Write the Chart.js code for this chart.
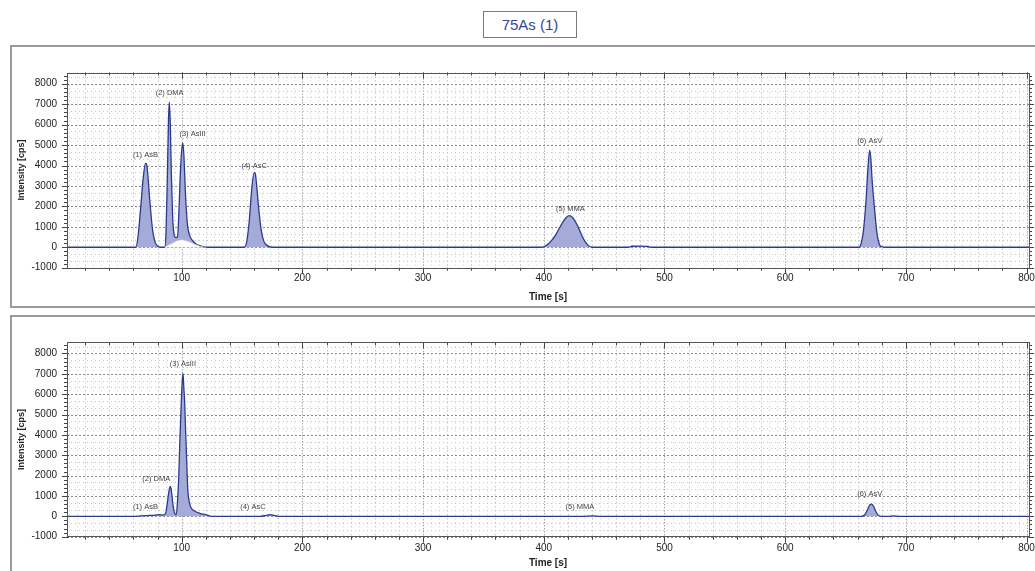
<!DOCTYPE html>
<html>
<head>
<meta charset="utf-8">
<script src="https://cdn.jsdelivr.net/npm/chart.js@4.4.1/dist/chart.umd.min.js"></script>
<style>
  html, body { margin: 0; padding: 0; background: #fff; overflow: hidden; }
  body { width: 1035px; height: 571px; position: relative; font-family: "Liberation Sans", Arial, sans-serif; }
  #title {
    position: absolute; left: 483px; top: 11px; width: 94px; height: 27px;
    box-sizing: border-box; border: 1px solid #7a7a7a;
    color: #34449a; font-size: 15px; line-height: 25px; text-align: center;
  }
  .panel { position: absolute; left: 10px; width: 1040px; border: 2px solid #9a9a9a; box-sizing: border-box; }
  canvas { position: absolute; left: 0; }
</style>
</head>
<body>
<div id="title">75As (1)</div>
<div class="panel" style="top:45px;height:263px"></div>
<div class="panel" style="top:315px;height:270px"></div>
<canvas id="top-chart" width="1035" height="261" style="top:46px"></canvas>
<canvas id="bottom-chart" width="1035" height="261" style="top:316px"></canvas>
<script>
// axis ranges and tick labels
const xMin = 5, xMax = 802;
const yMin = -1000, yMax = 8550;
const xTicks = [100, 200, 300, 400, 500, 600, 700, 800];
const yTicks = [-1000, 0, 1000, 2000, 3000, 4000, 5000, 6000, 7000, 8000];

const peakNames = ['(1) AsB', '(2) DMA', '(3) AsIII', '(4) AsC', '(5) MMA', '(6) AsV'];

// upper chromatogram (time [s], intensity [cps])
const topTime = [5, 60, 62, 64, 66, 68, 70, 71, 72, 74, 76, 78, 80, 83,
  86, 87, 88, 89, 89.7, 90.5, 91.5, 92.5, 93.5, 95, 96.5,
  97.5, 98.5, 99.5, 100.5, 101, 102, 103, 104, 105, 107, 109, 112, 116, 120, 124,
  152, 154, 156, 158, 160, 161, 162, 164, 166, 168, 171, 175,
  398, 402, 406, 410, 414, 418, 421, 424, 428, 431, 434, 437, 440,
  470, 473, 480, 486, 489,
  661, 663, 665, 667, 668.5, 670, 671, 672, 674, 676, 678, 680, 684, 802];
const topSignal = [0, 0, 0, 600, 1900, 3300, 4100, 4050, 3500, 2000, 800, 250, 60, 0,
  0, 700, 3000, 6000, 7100, 6200, 3500, 1500, 700, 480, 500,
  1400, 3000, 4300, 5000, 5100, 4300, 2800, 1700, 1000, 520, 330, 150, 60, 10, 0,
  0, 300, 1300, 2800, 3650, 3600, 3100, 1800, 800, 300, 80, 0,
  0, 80, 300, 620, 1050, 1420, 1550, 1450, 1050, 650, 300, 80, 0,
  0, 50, 55, 40, 0,
  0, 200, 900, 2300, 3800, 4750, 4300, 3300, 1900, 700, 150, 30, 0, 0];

// unfilled hump under peaks 2 and 3
const humpTime = [86, 88, 92, 96, 100, 104, 108, 112, 116, 120];
const humpSignal = [0, 80, 200, 320, 370, 320, 230, 120, 40, 0];

const topLabelTimes = [70, 90, 109, 160, 422, 670];
const topLabelHeights = [4100, 7100, 5100, 3560, 1440, 4750];

// lower chromatogram
const botTime = [5, 60, 66, 72, 78, 82, 84, 86.5, 88, 89.5, 90.6, 91.5, 92.5, 93.5, 94.5, 95.6,
  96.5, 97.5, 98.3, 99.7, 100.4, 101.1, 101.8, 102.5, 103.2, 103.9, 104.5, 105.2, 106.5, 108,
  111, 115, 120, 125,
  165, 170, 173, 177, 182,
  432, 440, 448,
  663, 666, 668, 670, 671.5, 673, 675, 677, 680,
  686, 690, 694, 802];
const botSignal = [0, 0, 20, 40, 60, 80, 60, 120, 600, 1250, 1470, 1250, 700, 300, 120, 100,
  700, 1800, 3350, 5600, 6600, 7020, 6300, 5600, 4300, 3200, 2100, 1200, 650, 400,
  250, 150, 80, 0,
  0, 50, 80, 40, 0,
  0, 20, 0,
  0, 80, 300, 550, 600, 520, 250, 60, 0,
  0, 25, 0, 0];

const botLabelTimes = [70, 79, 101, 159, 430, 670];
const botLabelHeights = [0, 1400, 7050, 0, 0, 650];

const chromPlugin = {
  id: 'chrom',
  beforeDatasetsDraw(chart) {
    const { ctx, chartArea: a, scales: { x, y } } = chart;
    ctx.save();
    ctx.lineWidth = 1;
    // vertical dotted grid
    for (let i = 0; i <= 125; i++) {
      const v = i * 20 / 3;
      if (v < x.min || v > x.max) continue;
      const px = Math.round(x.getPixelForValue(v)) + 0.5;
      const major = i % 15 === 0, mid = i % 3 === 0;
      ctx.strokeStyle = major ? '#7a7a7a' : mid ? '#a8a8a8' : '#cacaca';
      ctx.setLineDash(major ? [1, 2] : [1, 3]);
      ctx.beginPath();
      ctx.moveTo(px, a.top);
      ctx.lineTo(px, a.bottom);
      ctx.stroke();
    }
    // horizontal dotted grid
    for (let i = -3; i <= 26; i++) {
      const v = i * 1000 / 3;
      if (v < y.min || v > y.max) continue;
      const py = Math.round(y.getPixelForValue(v)) + 0.5;
      const major = i % 3 === 0;
      ctx.strokeStyle = major ? '#8a8a8a' : '#c6c6c6';
      ctx.setLineDash(major ? [2, 2] : [1, 3]);
      ctx.beginPath();
      ctx.moveTo(a.left, py);
      ctx.lineTo(a.right, py);
      ctx.stroke();
    }
    ctx.restore();
  },
  afterDraw(chart) {
    const { ctx, chartArea: a, scales: { x, y } } = chart;
    const opts = chart.options.plugins.chrom;
    ctx.save();
    ctx.strokeStyle = '#444';
    ctx.lineWidth = 1;
    ctx.setLineDash([]);
    ctx.beginPath();
    // x tick marks, bottom outside and top inside
    for (let v = 20; v <= x.max; v += 20) {
      if (v < x.min) continue;
      const px = Math.round(x.getPixelForValue(v)) + 0.5;
      const len = v % 100 === 0 ? 6 : 3;
      ctx.moveTo(px, a.bottom);
      ctx.lineTo(px, a.bottom + len);
      ctx.moveTo(px, a.top);
      ctx.lineTo(px, a.top + len);
    }
    // y tick marks, left and right outside
    for (let v = -1000; v <= y.max; v += 200) {
      const py = Math.round(y.getPixelForValue(v)) + 0.5;
      const len = v % 1000 === 0 ? 5 : 3;
      ctx.moveTo(a.left - len, py);
      ctx.lineTo(a.left + (v % 1000 === 0 ? 2 : 0), py);
      ctx.moveTo(a.right, py);
      ctx.lineTo(a.right + len, py);
    }
    ctx.stroke();
    ctx.strokeStyle = '#555';
    ctx.strokeRect(Math.round(a.left) + 0.5, Math.round(a.top) + 0.5,
      Math.round(a.right - a.left), Math.round(a.bottom - a.top));

    // peak labels
    ctx.font = '7.5px "Liberation Sans", Arial, sans-serif';
    ctx.fillStyle = '#444';
    ctx.textAlign = 'center';
    ctx.textBaseline = 'middle';
    opts.times.forEach((t, i) => {
      ctx.fillText(peakNames[i], x.getPixelForValue(t), y.getPixelForValue(opts.heights[i]) - 9);
    });
    ctx.restore();
  }
};

function toPoints(times, values) {
  return times.map((t, i) => ({ x: t, y: values[i] }));
}

function makeChart(id, datasets, labelTimes, labelHeights, padTop, xHeight, tickPad, titlePad) {
  const ctx = document.getElementById(id).getContext('2d');
  return new Chart(ctx, {
    type: 'line',
    data: { datasets: datasets },
    plugins: [chromPlugin],
    options: {
      responsive: false,
      animation: false,
      devicePixelRatio: 1,
      layout: { padding: { left: 0, right: 6, top: padTop, bottom: 0 } },
      plugins: {
        legend: { display: false },
        tooltip: { enabled: false },
        chrom: { times: labelTimes, heights: labelHeights },
      },
      elements: { point: { radius: 0 } },
      scales: {
        x: {
          type: 'linear',
          min: xMin,
          max: xMax,
          grid: { display: false, drawTicks: false },
          border: { display: false },
          afterBuildTicks: (scale) => { scale.ticks = xTicks.map(v => ({ value: v })); },
          ticks: {
            maxRotation: 0, autoSkip: false,
            padding: tickPad, color: '#222',
            font: { family: '"Liberation Sans", Arial, sans-serif', size: 10 },
            callback: (v) => String(v),
          },
          title: {
            display: true, text: 'Time [s]', color: '#222',
            padding: { top: 0, bottom: titlePad },
            font: { family: '"Liberation Sans", Arial, sans-serif', size: 10, weight: 'bold' },
          },
          afterFit: (scale) => {
            scale.height = xHeight;
            scale.paddingLeft = 0;
            scale.paddingRight = 0;
          },
        },
        y: {
          min: yMin,
          max: yMax,
          grid: { display: false, drawTicks: false },
          border: { display: false },
          afterBuildTicks: (scale) => { scale.ticks = yTicks.map(v => ({ value: v })); },
          ticks: {
            autoSkip: false, padding: 10, color: '#222',
            font: { family: '"Liberation Sans", Arial, sans-serif', size: 10 },
            callback: (v) => String(v),
          },
          title: {
            display: true, text: 'Intensity [cps]', color: '#222',
            padding: { top: 16, bottom: 0 },
            font: { family: '"Liberation Sans", Arial, sans-serif', size: 9, weight: 'bold' },
          },
          afterFit: (scale) => {
            scale.width = 67;
            scale.paddingTop = 0;
            scale.paddingBottom = 0;
          },
        },
      },
    },
  });
}

const signalStyle = {
  borderColor: '#2c3a8e',
  borderWidth: 1.3,
  backgroundColor: '#a4abd9',
  fill: 'origin',
  pointRadius: 0,
  cubicInterpolationMode: 'monotone',
};

window.addEventListener('load', () => {
  makeChart('top-chart', [
    Object.assign({}, signalStyle, {
      data: toPoints(humpTime, humpSignal),
      backgroundColor: '#ffffff', borderColor: '#bdbdbd', borderWidth: 0.8,
    }),
    Object.assign({}, signalStyle, { data: toPoints(topTime, topSignal) }),
  ], topLabelTimes, topLabelHeights, 26.5, 39.3, 5, 4);

  makeChart('bottom-chart', [
    Object.assign({}, signalStyle, { data: toPoints(botTime, botSignal) }),
  ], botLabelTimes, botLabelHeights, 26.3, 40.3, 6, 8);
});
</script>
</body>
</html>
